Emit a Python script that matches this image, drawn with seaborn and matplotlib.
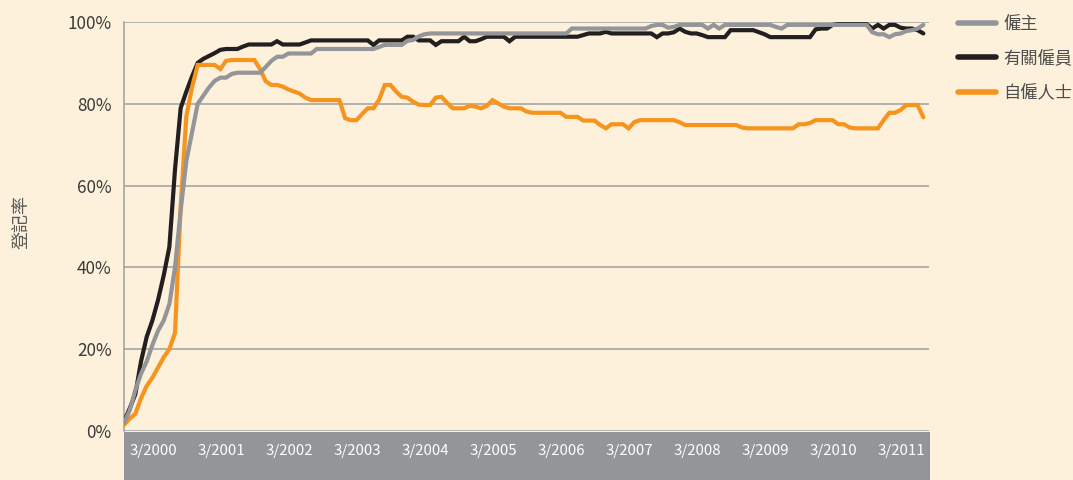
import numpy as np
import pandas as pd
import seaborn as sns
import matplotlib
matplotlib.use("Agg")
import matplotlib.pyplot as plt
from matplotlib.patches import Rectangle

# ---------------- data ----------------
series_names = ["僱主", "有關僱員", "自僱人士"]
year_labels = ["3/2000", "3/2001", "3/2002", "3/2003", "3/2004", "3/2005",
               "3/2006", "3/2007", "3/2008", "3/2009", "3/2010", "3/2011"]
y_ticks = [0, 20, 40, 60, 80, 100]
y_title = "登記率"

employers = [
    2, 5, 10, 14, 17, 21, 24.5, 27, 31, 40,
    54, 66, 73, 80, 82, 84, 85.6, 86.4, 86.4, 87.3,
    87.6, 87.6, 87.6, 87.6, 87.6, 89, 90.5, 91.5, 91.5, 92.3,
    92.3, 92.3, 92.3, 92.3, 93.4, 93.4, 93.4, 93.4, 93.4, 93.4,
    93.4, 93.4, 93.4, 93.4, 93.4, 93.9, 94.4, 94.4, 94.4, 94.4,
    95.4, 95.6, 96.5, 97, 97.2, 97.2, 97.2, 97.2, 97.2, 97.2,
    97.2, 97.2, 97.2, 97.2, 97.2, 97.2, 97.2, 97.2, 97.2, 97.2,
    97.2, 97.2, 97.2, 97.2, 97.2, 97.2, 97.2, 97.2, 97.2, 98.4,
    98.4, 98.4, 98.4, 98.4, 98.4, 98.4, 98.4, 98.4, 98.4, 98.4,
    98.4, 98.4, 98.4, 99, 99.3, 99.3, 98.6, 98.8, 99.3, 99.3,
    99.3, 99.3, 99.3, 98.4, 99.3, 98.4, 99.3, 99.3, 99.3, 99.3,
    99.3, 99.3, 99.3, 99.3, 99.3, 98.8, 98.4, 99.3, 99.3, 99.3,
    99.3, 99.3, 99.3, 99.3, 99.3, 99.3, 99.3, 99.3, 99.3, 99.3,
    99.3, 99.3, 97.5, 97, 97, 96.3, 97, 97.2, 97.8, 98,
    98.4, 99.3,
]

employees = [
    2.3, 5.5, 9, 17, 23, 27, 32, 38, 45, 64,
    79, 83, 86.7, 90, 91, 91.7, 92.4, 93.2, 93.4, 93.4,
    93.4, 94, 94.5, 94.5, 94.5, 94.5, 94.5, 95.3, 94.5, 94.5,
    94.5, 94.5, 95, 95.5, 95.5, 95.5, 95.5, 95.5, 95.5, 95.5,
    95.5, 95.5, 95.5, 95.5, 94.4, 95.5, 95.5, 95.5, 95.5, 95.5,
    96.4, 96.4, 95.5, 95.5, 95.5, 94.4, 95.3, 95.3, 95.3, 95.3,
    96.4, 95.3, 95.3, 95.8, 96.4, 96.4, 96.4, 96.4, 95.3, 96.4,
    96.4, 96.4, 96.4, 96.4, 96.4, 96.4, 96.4, 96.4, 96.4, 96.4,
    96.4, 96.8, 97.2, 97.2, 97.2, 97.6, 97.2, 97.2, 97.2, 97.2,
    97.2, 97.2, 97.2, 97.2, 96.3, 97.2, 97.2, 97.5, 98.4, 97.6,
    97.2, 97.2, 96.8, 96.3, 96.3, 96.3, 96.3, 98, 98, 98,
    98, 98, 97.5, 97, 96.3, 96.3, 96.3, 96.3, 96.3, 96.3,
    96.3, 96.3, 98.2, 98.4, 98.4, 99.3, 99.5, 99.5, 99.5, 99.5,
    99.5, 99.5, 98.4, 99.3, 98.4, 99.3, 99.3, 98.6, 98.4, 98.4,
    98, 97.2,
]

self_employed = [
    1.5, 3, 4.2, 8, 11, 13, 15.5, 18, 20, 24,
    55, 77, 84, 89.5, 89.5, 89.5, 89.5, 88.5, 90.5, 90.7,
    90.7, 90.7, 90.7, 90.7, 88.5, 85.5, 84.6, 84.6, 84.2, 83.5,
    83, 82.5, 81.5, 80.9, 80.9, 80.9, 80.9, 80.9, 80.9, 76.5,
    76, 76, 77.5, 78.9, 78.9, 81, 84.6, 84.6, 83, 81.7,
    81.5, 80.5, 79.8, 79.7, 79.7, 81.5, 81.7, 80.2, 78.9, 78.9,
    78.9, 79.5, 79.3, 78.9, 79.5, 80.9, 80.1, 79.3, 78.9, 78.9,
    78.9, 78.1, 77.8, 77.8, 77.8, 77.8, 77.8, 77.8, 76.8, 76.8,
    76.8, 75.9, 75.9, 75.9, 74.8, 74, 75, 75, 75, 74,
    75.5, 76, 76, 76, 76, 76, 76, 76, 75.5, 74.8,
    74.8, 74.8, 74.8, 74.8, 74.8, 74.8, 74.8, 74.8, 74.8, 74.2,
    74, 74, 74, 74, 74, 74, 74, 74, 74, 75,
    75, 75.3, 76, 76, 76, 76, 75, 75, 74.2, 74,
    74, 74, 74, 74, 76, 77.8, 77.8, 78.5, 79.7, 79.7,
    79.7, 76.7,
]

# ---------------- styling ----------------
BG = "#fdf1dc"
GRID = "#9d9fa2"
BAND = "#939598"
colors = {"僱主": "#939598", "有關僱員": "#231f20", "自僱人士": "#f7941d"}

sns.set_theme(style="white")
plt.rcParams["font.family"] = ["Noto Sans CJK TC", "DejaVu Sans"]

months = np.arange(len(employers))
df = pd.DataFrame({
    "month": np.concatenate([months, months, months]),
    "rate": np.concatenate([employers, employees, self_employed]),
    "series": np.repeat(series_names, len(months)),
})

W, H = 1073, 480
fig = plt.figure(figsize=(W / 100, H / 100), dpi=100, facecolor=BG)
ax = fig.add_axes([124 / W, 1 - 431 / H, (929 - 124) / W, (431 - 22) / H])
ax.set_facecolor(BG)

sns.lineplot(data=df, x="month", y="rate", hue="series", hue_order=series_names,
             palette=colors, linewidth=3.0, legend=False, ax=ax)

lines = ax.get_lines()[:3]
for ln, z in zip(lines, [4, 3, 3.5]):
    ln.set_zorder(z)
    ln.set_solid_joinstyle("miter")

ax.set_xlim(0, len(months))
ax.set_ylim(0, 100)
ax.set_yticks(y_ticks)
ax.set_yticklabels([f"{v}%" for v in y_ticks])
ax.yaxis.grid(True, color=GRID, linewidth=1.1)
ax.set_axisbelow(True)
for s in ["top", "right", "bottom"]:
    ax.spines[s].set_visible(False)
ax.spines["left"].set_color(GRID)
ax.spines["left"].set_linewidth(1.1)

# labels start slightly to the right of each March
ax.set_xticks(np.arange(len(year_labels)) * 12 + 0.9)
ax.set_xticklabels(year_labels, ha="left")
ax.tick_params(axis="x", length=0, pad=9, labelsize=10.8, labelcolor="white")
ax.tick_params(axis="y", length=0, pad=9, labelsize=12.3, labelcolor="#3a3a3a")

ax.set_xlabel("")
ax.set_ylabel(y_title, fontsize=13, color="#5a5a5a", labelpad=0)
ax.yaxis.set_label_coords(-0.116, 0.51)

# grey band under the axis
fig.patches.append(Rectangle((124 / W, 0), (930 - 124) / W, 48 / H,
                             transform=fig.transFigure, facecolor=BAND,
                             edgecolor="none", zorder=-1))

# legend
leg = fig.legend(lines[:3], series_names, loc="upper left",
                 bbox_to_anchor=(958 / W, 1 - 15 / H), frameon=False,
                 fontsize=12.4, handlelength=2.2, handletextpad=0.45,
                 labelspacing=0.95, borderpad=0, borderaxespad=0)
for t in leg.get_texts():
    t.set_color("#4d4d4d")
for h in leg.legend_handles:
    h.set_linewidth(4)

fig.savefig("out.png", dpi=100, facecolor=BG)
